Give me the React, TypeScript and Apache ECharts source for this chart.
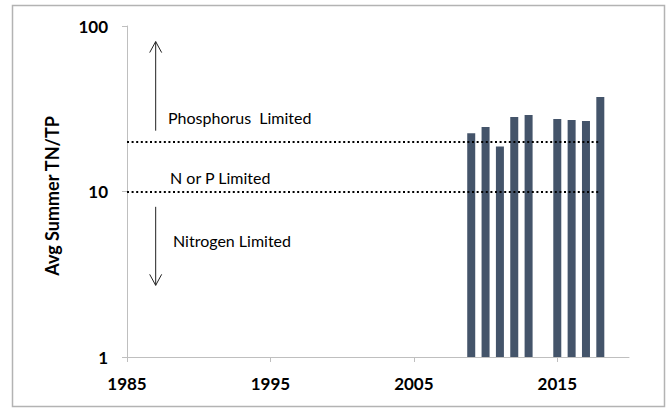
import React, { useEffect, useRef } from "react";
import * as echarts from "echarts";

// Data
const years = [2009, 2010, 2011, 2012, 2013, 2015, 2016, 2017, 2018];
const ratios = [22.5, 24.5, 18.7, 28.2, 29.0, 27.4, 27.0, 26.7, 37.2];
const xTicks = [1985, 1995, 2005, 2015];
const thresholds = [20, 10];
const thresholdStart = 1985;
const thresholdEnd = 2017.87;
const arrowYear = [1987, 1987];
const arrowFrom = [23.3, 8.08];
const arrowTo = [80.5, 2.71];
const regionLabels = ["Phosphorus  Limited", "N or P Limited", "Nitrogen Limited"];
const yTitle = "Avg Summer TN/TP";

const FONT = "Lato, 'Open Sans', sans-serif";

export default function App() {
  const ref = useRef<HTMLDivElement>(null);
  useEffect(() => {
    const chart = echarts.init(ref.current!, null, { renderer: "svg" });
    const labelStyle = (x: number, y: number, text: string) => ({
      type: "text",
      x,
      y,
      silent: true,
      style: { text, fill: "#000", font: `16px ${FONT}`, textVerticalAlign: "middle" },
    });
    const option: any = {
      animation: false,
      backgroundColor: "#ffffff",
      textStyle: { fontFamily: FONT },
      grid: { left: 127, top: 26, right: 41, bottom: 51, containLabel: false },
      xAxis: {
        type: "value",
        min: 1985,
        max: 2020,
        interval: 10,
        splitLine: { show: false },
        axisLine: { show: true, lineStyle: { color: "#bfbfbf", width: 1 } },
        axisTick: { show: true, length: 5, lineStyle: { color: "#bfbfbf" }, customValues: xTicks },
        axisLabel: {
          customValues: xTicks,
          formatter: (v: number) => String(v),
          color: "#000",
          fontWeight: "bold",
          fontSize: 17,
          fontFamily: FONT,
          margin: 18,
        },
      },
      yAxis: {
        type: "log",
        logBase: 10,
        min: 1,
        max: 100,
        splitLine: { show: false },
        axisLine: { show: true, lineStyle: { color: "#bfbfbf", width: 1 } },
        axisTick: { show: true, length: 5, lineStyle: { color: "#bfbfbf" } },
        axisLabel: { color: "#000", fontWeight: "bold", fontSize: 17, fontFamily: FONT, margin: 19 },
      },
      series: [
        {
          type: "bar",
          barWidth: 8,
          itemStyle: { color: "#44546a" },
          data: years.map((y, i) => [y, ratios[i]]),
          markLine: {
            silent: true,
            symbol: ["none", "none"],
            label: { show: false },
            lineStyle: { color: "#000", width: 2, type: [2, 2.6] },
            data: thresholds.map((t) => [
              { coord: [thresholdStart, t] },
              { coord: [thresholdEnd, t] },
            ]),
          },
        },
        {
          type: "custom",
          silent: true,
          encode: { x: 0, y: [1, 2] },
          data: arrowYear.map((x, i) => [x, arrowFrom[i], arrowTo[i]]),
          renderItem: (params: any, api: any) => {
            const x = api.value(0);
            const p0 = api.coord([x, api.value(1)]);
            const p1 = api.coord([x, api.value(2)]);
            const dir = p0[1] > p1[1] ? 1 : -1;
            const stroke = { stroke: "#222", lineWidth: 1, fill: "none" };
            return {
              type: "group",
              children: [
                { type: "line", shape: { x1: p0[0], y1: p0[1], x2: p1[0], y2: p1[1] }, style: stroke },
                {
                  type: "polyline",
                  shape: {
                    points: [
                      [p1[0] - 6, p1[1] + dir * 11],
                      [p1[0], p1[1]],
                      [p1[0] + 6, p1[1] + dir * 11],
                    ],
                  },
                  style: stroke,
                },
              ],
            };
          },
        },
      ],
      graphic: [
        {
          type: "rect",
          silent: true,
          shape: { x: 12.5, y: 5.5, width: 652, height: 401 },
          style: { fill: "none", stroke: "#b3b3b3", lineWidth: 1.5 },
        },
        {
          type: "text",
          silent: true,
          x: 52,
          y: 196,
          rotation: Math.PI / 2,
          style: {
            text: yTitle,
            fill: "#000",
            font: `bold 18px ${FONT}`,
            textAlign: "center",
            textVerticalAlign: "middle",
          },
        },
        labelStyle(168, 117, regionLabels[0]),
        labelStyle(170, 177, regionLabels[1]),
        labelStyle(173, 240, regionLabels[2]),
      ],
    };
    chart.setOption(option);
    return () => chart.dispose();
  }, []);
  return (
    <div
      ref={ref}
      style={{ position: "fixed", left: 0, top: 0, width: 670, height: 408 }}
    />
  );
}
